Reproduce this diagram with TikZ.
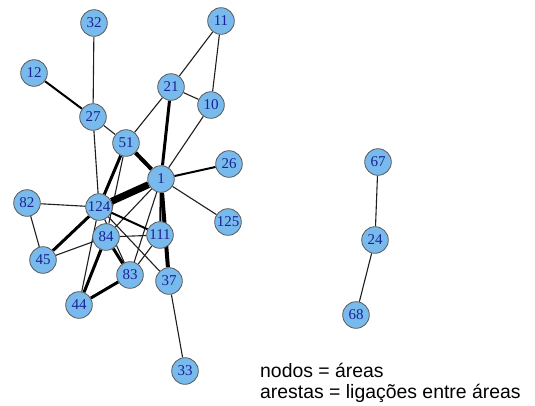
\documentclass[tikz,border=0pt]{standalone}
\usepackage{fontspec}
\setmainfont{Liberation Serif}
\newfontfamily\legendfont{Liberation Sans}
\usetikzlibrary{backgrounds}
\definecolor{nodefill}{RGB}{120,186,236}
\definecolor{nodeedge}{RGB}{90,90,90}
\definecolor{labelblue}{RGB}{25,35,150}
\definecolor{edgecol}{RGB}{30,30,30}
\tikzset{
  vtx/.style={circle, minimum size=26.6pt, inner sep=0pt, fill=nodefill, draw=nodeedge, line width=0.8pt,
    text=labelblue, font=\fontsize{15}{15}\selectfont},
  e1/.style={draw=edgecol, line width=1.1pt},
  e2/.style={draw=black, line width=2pt},
  e3/.style={draw=black, line width=3pt},
  e4/.style={draw=black, line width=4pt},
  e6/.style={draw=black, line width=7pt},
  legend/.style={anchor=base west, inner sep=0pt, font=\legendfont\fontsize{19.4}{22}\selectfont, text=black}
}
\begin{document}
\begin{tikzpicture}[x=1pt,y=-1pt]
\useasboundingbox (0,0) rectangle (535,405);
% nodes
\node[vtx] (n32) at (94,23) {32};
\node[vtx] (n11) at (221,21) {11};
\node[vtx] (n12) at (34,73) {12};
\node[vtx] (n21) at (171,87) {21};
\node[vtx] (n10) at (211,105) {10};
\node[vtx] (n27) at (93,117) {27};
\node[vtx] (n51) at (126,143) {51};
\node[vtx] (n26) at (229,164) {26};
\node[vtx] (n1) at (161,179) {1};
\node[vtx] (n82) at (27,203) {82};
\node[vtx] (n124) at (99,207) {124};
\node[vtx] (n125) at (228,222) {125};
\node[vtx] (n84) at (106,237) {84};
\node[vtx] (n111) at (160,235) {111};
\node[vtx] (n45) at (43,260) {45};
\node[vtx] (n83) at (130,275) {83};
\node[vtx] (n37) at (169,281) {37};
\node[vtx] (n44) at (79,305) {44};
\node[vtx] (n33) at (185,371) {33};
\node[vtx] (n67) at (378,162) {67};
\node[vtx] (n24) at (375,240) {24};
\node[vtx] (n68) at (356,315) {68};
% edges
\begin{pgfonlayer}{background}
\draw[e1] (n32) -- (n27);
\draw[e2] (n12) -- (n27);
\draw[e1] (n11) -- (n21);
\draw[e1] (n11) -- (n10);
\draw[e1] (n21) -- (n10);
\draw[e1] (n21) -- (n51);
\draw[e3] (n21) -- (n1);
\draw[e1] (n10) -- (n1);
\draw[e1] (n27) -- (n51);
\draw[e1] (n27) -- (n124);
\draw[e4] (n51) -- (n1);
\draw[e3] (n51) -- (n124);
\draw[e1] (n51) -- (n84);
\draw[e2] (n1) -- (n26);
\draw[e1] (n1) -- (n125);
\draw[e6] (n1) -- (n124);
\draw[e2] (n1) -- (n111);
\draw[e4] (n1) -- (n37);
\draw[e1] (n1) -- (n84);
\draw[e1] (n1) -- (n83);
\draw[e1] (n82) -- (n124);
\draw[e1] (n82) -- (n45);
\draw[e3] (n124) -- (n45);
\draw[e2] (n124) -- (n111);
\draw[e1] (n124) -- (n37);
\draw[e1] (n124) -- (n44);
\draw[e1] (n124) -- (n83);
\draw[e1] (n84) -- (n45);
\draw[e1] (n84) -- (n111);
\draw[e3] (n84) -- (n83);
\draw[e3] (n84) -- (n44);
\draw[e3] (n83) -- (n44);
\draw[e1] (n83) -- (n111);
\draw[e1] (n37) -- (n33);
\draw[e1] (n67) -- (n24);
\draw[e1] (n24) -- (n68);
\end{pgfonlayer}
% legend
\node[legend] (leg1) at (260,377) {nodos = áreas};
\node[legend] (leg2) at (260,398) {arestas = ligações entre áreas};
\end{tikzpicture}
\end{document}
